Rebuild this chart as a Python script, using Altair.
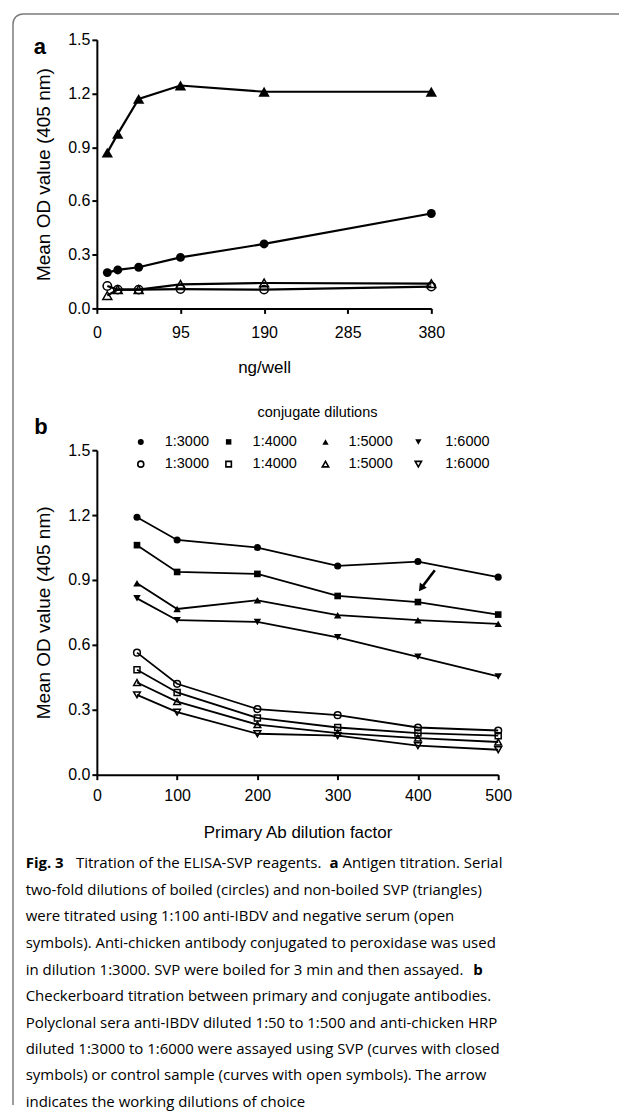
import math
import altair as alt
import pandas as pd

# ---------------- data ----------------
# Panel a: antigen titration (ng/well)
a_x = [11.875, 23.75, 47.5, 95, 190, 380]
a_nonboiled_pos = [0.87, 0.975, 1.17, 1.245, 1.21, 1.21]
a_boiled_pos = [0.20, 0.215, 0.23, 0.285, 0.36, 0.53]
a_nonboiled_neg = [0.072, 0.105, 0.105, 0.134, 0.142, 0.138]
a_boiled_neg = [0.125, 0.105, 0.105, 0.108, 0.105, 0.122]
a_xticks = [0, 95, 190, 285, 380]
od_ticks = [0.0, 0.3, 0.6, 0.9, 1.2, 1.5]

# Panel b: checkerboard titration (primary Ab dilution factor)
b_x = [50, 100, 200, 300, 400, 500]
b_closed_3000 = [1.19, 1.085, 1.05, 0.965, 0.985, 0.913]
b_closed_4000 = [1.061, 0.937, 0.928, 0.826, 0.798, 0.740]
b_closed_5000 = [0.885, 0.766, 0.806, 0.737, 0.714, 0.697]
b_closed_6000 = [0.815, 0.714, 0.706, 0.635, 0.545, 0.454]
b_open_3000 = [0.564, 0.420, 0.303, 0.275, 0.218, 0.204]
b_open_4000 = [0.485, 0.380, 0.262, 0.218, 0.192, 0.180]
b_open_5000 = [0.426, 0.338, 0.231, 0.192, 0.169, 0.151]
b_open_6000 = [0.369, 0.289, 0.189, 0.180, 0.134, 0.115]
b_xticks = [0, 100, 200, 300, 400, 500]
legend_labels = ["1:3000", "1:4000", "1:5000", "1:6000"]
arrow_x = [421, 404]
arrow_y = [0.945, 0.862]

caption_lines = [
    [("Fig. 3", True), ("Titration of the ELISA-SVP reagents.", False), ("a", True),
     ("Antigen titration. Serial", False)],
    [("two-fold dilutions of boiled (circles) and non-boiled SVP (triangles)", False)],
    [("were titrated using 1:100 anti-IBDV and negative serum (open", False)],
    [("symbols). Anti-chicken antibody conjugated to peroxidase was used", False)],
    [("in dilution 1:3000. SVP were boiled for 3 min and then assayed.", False), ("b", True)],
    [("Checkerboard titration between primary and conjugate antibodies.", False)],
    [("Polyclonal sera anti-IBDV diluted 1:50 to 1:500 and anti-chicken HRP", False)],
    [("diluted 1:3000 to 1:6000 were assayed using SVP (curves with closed", False)],
    [("symbols) or control sample (curves with open symbols). The arrow", False)],
    [("indicates the working dilutions of choice", False)],
]

# ---------------- styling ----------------
FONT = "Liberation Sans"
CAP_FONT = "Open Sans"
CAP_SIZE = 15.0
BORDER = "#7a7a7a"

A_W, A_H = 335, 269
B_W, B_H = 402, 325
A_X0, A_Y0 = 97, 39      # page position of panel a plot origin
B_X0, B_Y0 = 97, 450     # page position of panel b plot origin

dummy = pd.DataFrame({"d": [0]})


def txt(text, x, y, size, bold=False, align="left", font=FONT):
    return alt.Chart(dummy).mark_text(
        text=text, align=align, baseline="middle", font=font, fontSize=size,
        fontWeight="bold" if bold else "normal", color="black"
    ).encode(x=alt.value(x), y=alt.value(y))


def series(xs, ys, shape, filled, size, lw, xenc, yenc):
    df = pd.DataFrame({"x": xs, "y": ys})
    base = alt.Chart(df).encode(x=xenc, y=yenc)
    line = base.mark_line(color="black", strokeWidth=lw)
    if filled:
        pt = base.mark_point(shape=shape, filled=True, size=size, color="black", opacity=1)
    else:
        pt = base.mark_point(shape=shape, filled=False, size=size, color="black",
                             opacity=1, strokeWidth=1.5)
    return line, pt


# ---------------- panel a ----------------
a_xscale = alt.Scale(domain=[0, 380], nice=False, zero=False)
a_yscale = alt.Scale(domain=[0, 1.5], nice=False)
a_xenc = alt.X("x:Q", scale=a_xscale,
               axis=alt.Axis(values=a_xticks, format="d", title="ng/well", labelPadding=11,
                             titlePadding=19, labelFlush=False, labelOverlap=False))
a_yenc = alt.Y("y:Q", scale=a_yscale,
               axis=alt.Axis(values=od_ticks, format=".1f", title="Mean OD value (405 nm)",
                             titleFontSize=19, titlePadding=14, labelFlush=False,
                             labelOverlap=False))

a_series = [
    (a_boiled_neg, "circle", False, 70),
    (a_nonboiled_neg, "triangle-up", False, 80),
    (a_boiled_pos, "circle", True, 80),
    (a_nonboiled_pos, "triangle-up", True, 130),
]
a_lines, a_points = [], []
for ys, shp, fl, sz in a_series:
    ln, pt = series(a_x, ys, shp, fl, sz, 2.2, a_xenc, a_yenc)
    a_lines.append(ln)
    a_points.append(pt)

# frame (top + left edge with rounded corner)
R = 10
fx = 13 - A_X0
fy = 13 - A_Y0
frame_top = alt.Chart(dummy).mark_rule(color=BORDER, strokeWidth=1.5).encode(
    x=alt.value(fx + R), x2=alt.value(620 - A_X0), y=alt.value(fy))
frame_left = alt.Chart(dummy).mark_rule(color=BORDER, strokeWidth=1.5).encode(
    y=alt.value(fy + R), y2=alt.value(1106 - A_Y0), x=alt.value(fx))
frame_corner = alt.Chart(dummy).mark_arc(
    theta=3 * math.pi / 2, theta2=2 * math.pi, radius=R + 0.75, radius2=R - 0.75,
    color=BORDER).encode(x=alt.value(fx + R), y=alt.value(fy + R))

label_a = txt("a", 40 - A_X0, 46 - A_Y0, 22, bold=True, align="center")

panel_a = alt.layer(
    *a_lines, *a_points, frame_top, frame_left, frame_corner, label_a
).properties(width=A_W, height=A_H)

# ---------------- panel b ----------------
b_xscale = alt.Scale(domain=[0, 500], nice=False, zero=False)
b_yscale = alt.Scale(domain=[0, 1.5], nice=False)
b_xenc = alt.X("x:Q", scale=b_xscale,
               axis=alt.Axis(values=b_xticks, format="d", title="Primary Ab dilution factor",
                             labelPadding=8, titlePadding=21, labelFlush=False,
                             labelOverlap=False))
b_yenc = alt.Y("y:Q", scale=b_yscale,
               axis=alt.Axis(values=od_ticks, format=".1f", title="Mean OD value (405 nm)",
                             titleFontSize=19, titlePadding=14, labelFlush=False,
                             labelOverlap=False))

b_series = [
    (b_closed_3000, "circle", True, 50),
    (b_closed_4000, "square", True, 44),
    (b_closed_5000, "triangle-up", True, 56),
    (b_closed_6000, "triangle-down", True, 56),
    (b_open_3000, "circle", False, 45),
    (b_open_4000, "square", False, 36),
    (b_open_5000, "triangle-up", False, 45),
    (b_open_6000, "triangle-down", False, 45),
]
b_lines, b_points = [], []
for ys, shp, fl, sz in b_series:
    ln, pt = series(b_x, ys, shp, fl, sz, 1.8, b_xenc, b_yenc)
    b_lines.append(ln)
    b_points.append(pt)

# arrow
arrow_df = pd.DataFrame({"x": arrow_x, "y": arrow_y})
arrow_line = alt.Chart(arrow_df).mark_line(color="black", strokeWidth=2.6).encode(
    x=b_xenc, y=b_yenc)
arrow_head = alt.Chart(arrow_df.iloc[[1]]).mark_point(
    shape="triangle-up", filled=True, size=75, color="black", opacity=1, angle=216
).encode(x=b_xenc, y=b_yenc)

# legend
leg_layers = [txt("conjugate dilutions", 318 - B_X0, 413 - B_Y0, 14.5, align="center")]
sym_x = [141, 229, 326, 419]
lab_x = [165, 253, 349, 446]
row_y = [441.7, 464]
leg_shapes = ["circle", "square", "triangle-up", "triangle-down"]
leg_sizes = [36, 30, 40, 40]
for r, filled in enumerate([True, False]):
    for i, lab in enumerate(legend_labels):
        kw = dict(shape=leg_shapes[i], size=leg_sizes[i], color="black", opacity=1)
        if filled:
            kw["filled"] = True
        else:
            kw["filled"] = False
            kw["strokeWidth"] = 1.6
        leg_layers.append(alt.Chart(dummy).mark_point(**kw).encode(
            x=alt.value(sym_x[i] - B_X0), y=alt.value(row_y[r] - B_Y0)))
        leg_layers.append(txt(lab, lab_x[i] - B_X0, row_y[r] - B_Y0, 14.5))

label_b = txt("b", 41 - B_X0, 427 - B_Y0, 22, bold=True, align="center")

# caption
cap_y = [863.3, 890.5, 917, 943.5, 970.5, 997, 1023.3, 1049.8, 1076.3, 1102.5]
cap_seg_x = {0: [25.7, 76, 330, 343], 4: [25.7, 474]}
cap_layers = []
for li, segs in enumerate(caption_lines):
    xs = cap_seg_x.get(li, [25.7])
    for (t, bold), sx in zip(segs, xs):
        cap_layers.append(txt(t, sx - B_X0, cap_y[li] - B_Y0, CAP_SIZE, bold=bold,
                              font=CAP_FONT))

panel_b = alt.layer(
    *b_lines, *b_points, arrow_line, arrow_head, *leg_layers, label_b, *cap_layers
).properties(width=B_W, height=B_H)

chart = alt.vconcat(panel_a, panel_b, spacing=B_Y0 - (A_Y0 + A_H), bounds="flush").properties(
    padding={"left": 4, "top": 4, "right": 0, "bottom": 0}
).configure_view(stroke=None).configure_axis(
    domainColor="black", domainWidth=2, tickColor="black", tickWidth=2, tickSize=5,
    labelColor="black", labelFont=FONT, labelFontSize=16, titleFont=FONT,
    titleFontSize=17, titleFontWeight="normal", titleColor="black", grid=False
)

chart.save("out.html", embed_options={"renderer": "svg", "actions": False})
